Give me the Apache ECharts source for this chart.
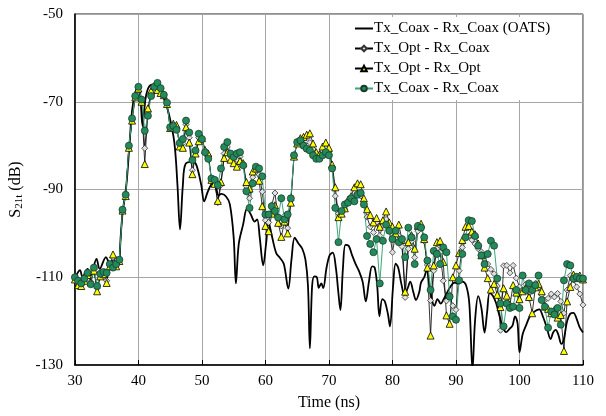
<!DOCTYPE html>
<html>
<head>
<meta charset="utf-8">
<script src="https://cdn.jsdelivr.net/npm/echarts@6/dist/echarts.min.js"></script>
<style>
    html, body {margin: 0; padding: 0; background: #fff;}
    #chart {width: 606px; height: 416px;}
</style>
</head>
<body>
<div id="chart"></div>
<script>
// 时间轴刻度
var timeTicks = [30, 40, 50, 60, 70, 80, 90, 100, 110];
var dbTicks = [-130, -110, -90, -70, -50];

// 采样时刻 (ns)：带符号的三条曲线等间隔采样
var sampleStart = 30, sampleStep = 0.5;

// OATS 参考曲线 [t, dB]
var oatsCurve = [
    [30.0, -110.3], [30.8, -108.4], [31.2, -109.9], [32.0, -108.1], [32.5, -109.6], [33.4, -105.8],
    [33.9, -108.1], [34.9, -105.4], [35.5, -106.9], [36.4, -105.4], [36.9, -106.9], [37.2, -100.9],
    [37.5, -95.5], [38.1, -89], [38.55, -80.7], [39.0, -72], [39.5, -68], [39.95, -66.6],
    [40.25, -67.6], [40.65, -75.5], [41.1, -69.5], [41.55, -66.9], [42.15, -66.1], [42.95, -66.6],
    [43.85, -68.7], [44.75, -72.5], [45.65, -79.2], [46.15, -89], [46.55, -99.1], [47.0, -89],
    [47.45, -84.1], [48.65, -83.7], [49.15, -84.5], [49.9, -89], [50.35, -92.7], [50.95, -90.4],
    [51.7, -88.6], [52.15, -89], [52.6, -91.4], [53.05, -91.0], [53.8, -91.6], [54.4, -93.4],
    [55.0, -100.9], [55.35, -111.4], [55.8, -102.4], [56.5, -97.9], [57.1, -94.3], [57.7, -95.7],
    [58.3, -97.3], [58.7, -96.8], [59.1, -100.9], [59.65, -107.3], [60.1, -102.4], [60.5, -97.5],
    [61.0, -100.5], [61.7, -104.5], [62.3, -105.6], [62.9, -107.0], [63.6, -112.6], [64.1, -106],
    [64.6, -101], [65.2, -102.3], [65.8, -103.5], [66.3, -106], [66.7, -112], [67.0, -126.2],
    [67.35, -112], [67.7, -109.8], [68.1, -110], [68.4, -112.4], [68.8, -111.4], [69.1, -112.5],
    [69.6, -108], [70.1, -105], [70.6, -104.4], [71.1, -108], [71.45, -113], [71.8, -117.5],
    [72.2, -108], [72.6, -102.6], [73.1, -102.8], [73.6, -104.8], [74.2, -107], [74.7, -108.5],
    [75.3, -111], [75.8, -115.5], [76.3, -111], [76.8, -107.5], [77.2, -107.8], [77.6, -112],
    [77.95, -118.9], [78.4, -115], [78.8, -115.5], [79.3, -118.5], [79.6, -121.2], [80.1, -112],
    [80.5, -106.9], [80.9, -107.8], [81.4, -111.5], [81.9, -114], [82.4, -112.5], [82.8, -111],
    [83.3, -113.5], [83.7, -115.2], [84.2, -113.5], [84.5, -111.2], [85.0, -110], [85.4, -108.3],
    [85.8, -111.5], [86.2, -115], [86.6, -116.5], [87.1, -115], [87.6, -116], [88.0, -115.2],
    [88.6, -113.5], [89.2, -112], [89.8, -111.2], [90.4, -111.5], [91.0, -111], [91.6, -111.9],
    [92.1, -116], [92.6, -131], [93.0, -120], [93.5, -114.3], [94.0, -117], [94.5, -122.6],
    [94.9, -118], [95.3, -113.6], [95.8, -114.2], [96.3, -115.8], [96.8, -118.5], [97.4, -121.5],
    [97.9, -122.5], [98.4, -121.8], [98.9, -121], [99.3, -118.9], [99.7, -120.5], [100.0, -127.1],
    [100.5, -123], [101.0, -121.1], [101.6, -119], [102.2, -118], [103.1, -117.3], [103.7, -119],
    [104.3, -121.5], [104.9, -124.1], [105.3, -122.6], [105.7, -122], [106.1, -123], [106.6, -125.2],
    [107.0, -124], [107.5, -120], [108.0, -118.3], [108.5, -118.1], [109.0, -119.5], [109.5, -121.5],
    [110.0, -122.6]
];

// Tx_Opt - Rx_Coax
var optCoax = [
    -110.2, -111.5, -111.6, -110.5, -109.3, -111, -108.2, -112.5, -109.6, -109, -110.8, -107.3,
    -105.5, -107.2, -106.2, -94.7, -91.3, -80.3, -74, -68.8, -66.8, -69.8, -80.6, -72.5,
    -68, -66.5, -67, -67.6, -68.4, -70.3, -75.9, -75.3, -75.8, -79.8, -79.5, -75.2,
    -78.2, -85.6, -81.5, -78.2, -78.4, -81.2, -82.2, -87.6, -88.2, -93, -89, -81.8,
    -80.3, -82.5, -83.3, -83.2, -82.5, -84.2, -89.3, -92, -87.2, -85, -86.6, -90.5,
    -97, -97.5, -93.5, -90.8, -96.5, -98.3, -96, -98.8, -92.5, -82.3, -79.4, -78.6,
    -78.8, -79, -79.3, -80.8, -82.2, -82.6, -81.2, -80.5, -81.4, -84.8, -91.5, -95.5,
    -95, -94.5, -93, -92.6, -91.5, -90.8, -91.5, -93.5, -96.3, -98.5, -99.8, -97.5,
    -100.5, -98.2, -96.8, -99.3, -104.3, -100.2, -100.5, -103, -114.6, -103.5, -101.8, -105.5,
    -99.5, -98.4, -101.8, -107.2, -115.3, -108.5, -103.5, -104.3, -110.8, -115.4, -114, -116.5,
    -117.4, -108.5, -103.2, -100.9, -100.6, -101.5, -102.4, -103.5, -104.2, -105, -107, -108.2,
    -109.2, -112, -122.1, -107.4, -107.3, -109, -107.3, -110.2, -112.2, -112.9, -111.6, -114.8,
    -113.2, -111.4, -112.3, -114, -115.2, -114.8, -113.8, -114.5, -113.7, -115.5, -118.2, -112.9,
    -109.6, -110.6, -112.2, -113.8, -116.3
];

// Tx_Opt - Rx_Opt
var optOpt = [
    -110.5, -111.8, -112, -110.8, -109.5, -111.2, -108.5, -113.2, -109.8, -109.3, -111.3, -107.5,
    -104.8, -107.5, -106.3, -94.8, -91.5, -80.5, -74.3, -69, -67, -70, -84.2, -71.5,
    -67.5, -66.4, -67.3, -68, -68.5, -70.5, -76, -75, -75.3, -80.2, -80.5, -75.8,
    -79.3, -86.5, -81.8, -79, -78.3, -81, -81.8, -87.8, -88.7, -92.6, -88.3, -82.8,
    -81.5, -83.2, -84, -84.8, -83.5, -84, -88.3, -89.8, -85.9, -85.2, -88, -93.8,
    -98.3, -99.5, -95.5, -93.6, -97.6, -100.8, -97.3, -100, -93, -82.5, -79.5, -78.3,
    -78, -77.5, -77.2, -79.5, -81.5, -82, -80.2, -79.3, -80.5, -84.3, -89.5, -96.3,
    -95.5, -94.3, -92.3, -91.5, -89.5, -88.6, -88.8, -92, -94.5, -95.8, -97.5, -96.5,
    -98.5, -97, -95, -97.5, -98.5, -100, -98, -101.5, -113.3, -102, -100.4, -103.5,
    -98.3, -97.8, -101.3, -107.8, -123.3, -107.3, -102, -101.7, -106.5, -118.7, -120.6, -110,
    -107.3, -104.5, -101.5, -98.5, -98.3, -99.6, -100.2, -102.3, -105, -107.8, -110.2, -112.8,
    -111.5, -114, -116.8, -112.5, -114.2, -116.2, -111.8, -113.5, -115, -113.2, -112.5, -114.5,
    -118.2, -112.3, -111.5, -113.2, -116.7, -117.2, -118.2, -117.4, -119.2, -118.6, -126.8, -115.5,
    -112.2, -109.4, -110.2, -109.6, -110.5
];

// Tx_Coax - Rx_Coax
var coaxCoax = [
    -110, -110.8, -111.4, -110.3, -109, -111.6, -107.8, -112, -109.2, -108.8, -109, -107,
    -107.8, -107, -106, -94.6, -91.2, -80, -73.8, -68.7, -66.6, -69.5, -76.6, -73.2,
    -68.7, -66.6, -65.7, -66.9, -68.4, -70.2, -75.8, -75.5, -76.4, -79.4, -78.5, -74.3,
    -77, -83.3, -81.1, -77.3, -78.5, -81.5, -83, -87.5, -87.8, -89, -85.2, -80.3,
    -79.2, -81.8, -82.6, -81.8, -81.5, -84.5, -90.4, -94.2, -88.6, -84.8, -85.2, -87,
    -95.7, -95.7, -93.8, -94.9, -96.4, -92, -96.8, -95.7, -92, -82.2, -79.2, -78.8,
    -80, -80.7, -81.1, -82.2, -83, -83, -82.2, -81.5, -82.2, -85.2, -94.2, -102,
    -94.9, -93.4, -93, -92, -92.7, -91.2, -90.8, -93.4, -100.6, -102.4, -104.3, -101.3,
    -111.4, -101.7, -98, -99.4, -101.3, -99.4, -102, -101.3, -105.4, -98.7, -100.9, -107,
    -98.3, -98.7, -100.9, -106.2, -112.9, -104, -104.7, -107, -103.2, -104.3, -114.4, -118.9,
    -119.7, -110.7, -104.7, -100.9, -97, -97.2, -100.6, -102.8, -105, -107, -104.7, -101.7,
    -102.8, -110.3, -116, -121.2, -116, -117, -116.7, -112.9, -117, -109.6, -112.9, -111.4,
    -112.9, -111.8, -109.6, -115.2, -116.7, -121.5, -117.8, -118.5, -117, -120.8, -110.7, -107,
    -107.3, -110.3, -109.9, -110.3, -110.3
];

var toPairs = function (values) {
    return values.map(function (v, i) { return [sampleStart + i * sampleStep, v]; });
};

var serifFont = '"Liberation Serif", "Times New Roman", serif';

var chart = echarts.init(document.getElementById('chart'));
chart.setOption({
    animation: false,
    backgroundColor: '#fff',
    textStyle: {fontFamily: serifFont, color: '#000'},
    grid: {
        left: 70, right: 23, top: 14, bottom: 46,
        show: true, borderColor: '#222', borderWidth: 1
    },
    legend: {
        orient: 'vertical',
        left: 351, top: 17,
        padding: [4, 30, 4, 3],
        itemGap: 5,
        itemWidth: 18, itemHeight: 7,
        backgroundColor: '#fff',
        textStyle: {fontFamily: serifFont, fontSize: 15, color: '#000', padding: [0, 0, 0, -4]},
        data: [
            {name: 'Tx_Coax - Rx_Coax (OATS)', icon: 'path://M0,0H18V2H0Z'},
            'Tx_Opt - Rx_Coax', 'Tx_Opt - Rx_Opt', 'Tx_Coax - Rx_Coax'
        ]
    },
    xAxis: {
        type: 'value',
        min: timeTicks[0], max: timeTicks[timeTicks.length - 1], interval: 10,
        name: 'Time (ns)',
        nameLocation: 'middle',
        nameGap: 30,
        nameTextStyle: {fontFamily: serifFont, fontSize: 16, color: '#000'},
        axisLine: {lineStyle: {color: '#000', width: 1.5}},
        axisTick: {inside: true, length: 5, lineStyle: {color: '#000'}},
        axisLabel: {fontFamily: serifFont, fontSize: 15, color: '#000', margin: 9},
        splitLine: {show: true, lineStyle: {color: '#a6a6a6', width: 1}}
    },
    yAxis: {
        type: 'value',
        min: dbTicks[0], max: dbTicks[dbTicks.length - 1], interval: 20,
        name: 'S{sub|21t} (dB)',
        nameLocation: 'middle',
        nameGap: 50,
        nameTextStyle: {
            fontFamily: serifFont, fontSize: 16, color: '#000',
            rich: {sub: {fontFamily: serifFont, fontSize: 11, color: '#000', verticalAlign: 'bottom', padding: [6, 0, 0, 0]}}
        },
        axisLine: {show: true, lineStyle: {color: '#000', width: 1.5}},
        axisTick: {show: false},
        axisLabel: {fontFamily: serifFont, fontSize: 15, color: '#000', margin: 12},
        splitLine: {show: true, lineStyle: {color: '#a6a6a6', width: 1}}
    },
    series: [{
        name: 'Tx_Coax - Rx_Coax (OATS)',
        type: 'line',
        data: oatsCurve,
        smooth: 0.35,
        showSymbol: false,
        symbol: 'none',
        lineStyle: {color: '#000', width: 1.8},
        itemStyle: {color: '#000'}
    }, {
        name: 'Tx_Opt - Rx_Coax',
        type: 'line',
        data: toPairs(optCoax),
        symbol: 'diamond',
        symbolSize: 6,
        lineStyle: {color: '#000', width: 0.8},
        itemStyle: {color: '#e0e0e0', borderColor: '#333', borderWidth: 0.8}
    }, {
        name: 'Tx_Opt - Rx_Opt',
        type: 'line',
        data: toPairs(optOpt),
        symbol: 'triangle',
        symbolSize: 7,
        lineStyle: {color: '#000', width: 0.8},
        itemStyle: {color: '#ffff00', borderColor: '#000', borderWidth: 0.8}
    }, {
        name: 'Tx_Coax - Rx_Coax',
        type: 'line',
        data: toPairs(coaxCoax),
        symbol: 'circle',
        symbolSize: 7,
        lineStyle: {color: '#3fa57a', width: 1},
        itemStyle: {color: '#238a5c', borderColor: '#1a3d2c', borderWidth: 0.8}
    }]
});
</script>
</body>
</html>
